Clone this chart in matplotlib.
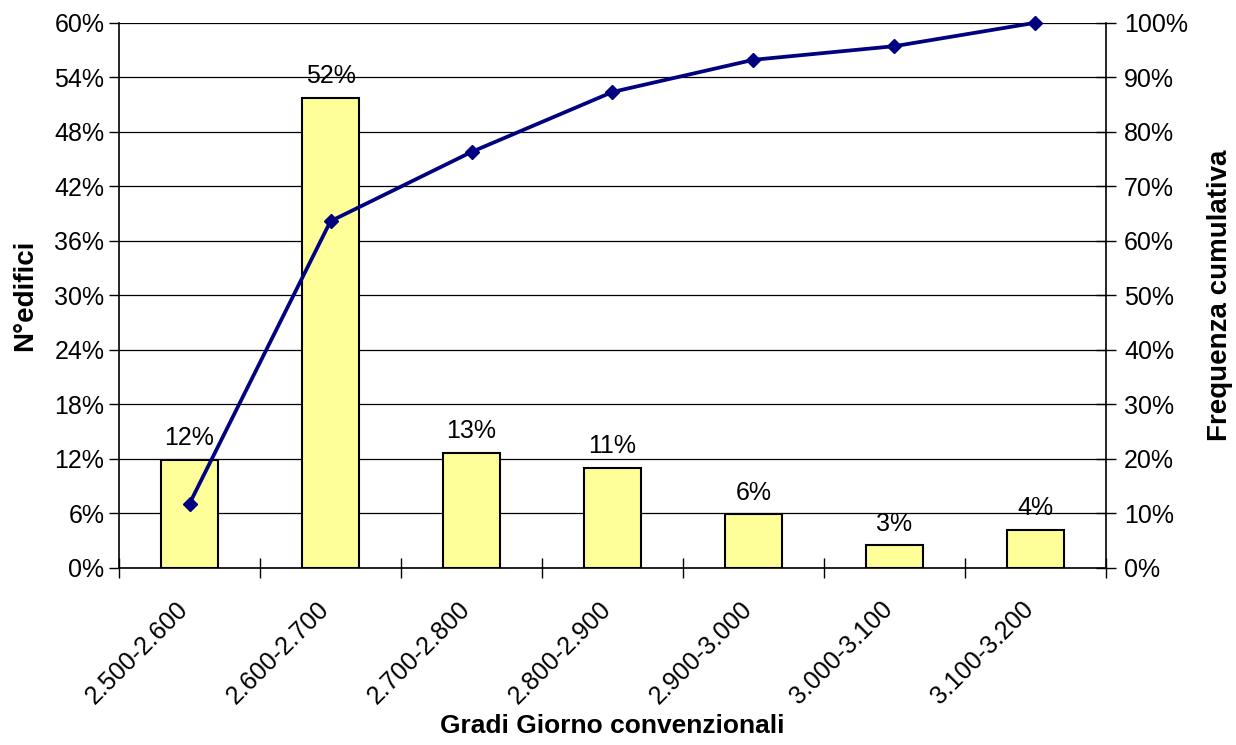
import matplotlib
matplotlib.use("Agg")
from matplotlib import pyplot as plt
from matplotlib.ticker import FixedLocator, PercentFormatter
from matplotlib.transforms import ScaledTranslation
import numpy as np

# dati
categorie = ["2.500-2.600", "2.600-2.700", "2.700-2.800", "2.800-2.900",
             "2.900-3.000", "3.000-3.100", "3.100-3.200"]
n_edifici = [11.9, 51.7, 12.7, 11.0, 5.9, 2.5, 4.2]          # % edifici
etichette = ["12%", "52%", "13%", "11%", "6%", "3%", "4%"]
freq_cumulativa = [11.8, 63.6, 76.3, 87.3, 93.2, 95.7, 100.0]  # %

plt.rcParams['font.family'] = ['Liberation Sans', 'DejaVu Sans']
FS = 18

fig = plt.figure(figsize=(12.36, 7.45), dpi=100)
ax = fig.add_subplot(111)
fig.subplots_adjust(left=0.0963, right=0.8948, top=0.9695, bottom=0.2376)

x = np.arange(len(categorie))
ax.bar(x, n_edifici, width=0.4, color="#FFFF99", edgecolor="black",
       linewidth=1.5, zorder=3)
for xi, v, lab in zip(x, n_edifici, etichette):
    ax.annotate(lab, (xi, v), xytext=(0, 7), textcoords="offset points",
                ha="center", va="bottom", fontsize=FS, zorder=5)

ax.set_xlim(-0.5, len(categorie) - 0.5)
ax.set_ylim(0, 60)
ax.set_yticks(np.arange(0, 61, 6))
ax.yaxis.set_major_formatter(PercentFormatter(decimals=0))
ax.yaxis.grid(True, color="black", linewidth=0.9, zorder=0)
ax.set_axisbelow(True)

# tacche tra le categorie, etichette al centro
ax.set_xticks(x)
ax.set_xticklabels(categorie, rotation=45, ha="right", rotation_mode="anchor",
                   fontsize=FS)
ax.tick_params(axis="x", which="major", length=0, pad=21)
offset = ScaledTranslation(-14 / 100, 0, fig.dpi_scale_trans)
for lab in ax.get_xticklabels():
    lab.set_transform(lab.get_transform() + offset)
ax.xaxis.set_minor_locator(FixedLocator(np.arange(-0.5, len(categorie), 1)))
ax.tick_params(axis="x", which="minor", length=14, direction="inout", width=1)
ax.tick_params(axis="y", labelsize=FS, length=7, width=1, direction="out")

ax.spines["top"].set_visible(False)
ax.spines["right"].set_visible(False)
ax.spines["left"].set_linewidth(1.2)
ax.spines["bottom"].set_linewidth(1.2)

ax.set_ylabel("N°edifici", fontsize=20, fontweight="bold", labelpad=12)
ax.set_xlabel("Gradi Giorno convenzionali", fontsize=19, fontweight="bold",
              labelpad=4)

ax2 = ax.twinx()
ax2.plot(x, freq_cumulativa, color="#000080", linewidth=2.7, marker="D",
         markersize=7, clip_on=False, zorder=4)
ax2.set_ylim(0, 100)
ax2.set_yticks(np.arange(0, 101, 10))
ax2.yaxis.set_major_formatter(PercentFormatter(decimals=0))
ax2.tick_params(axis="y", labelsize=FS, length=14, width=1, direction="inout",
                pad=6)
ax2.spines["top"].set_visible(False)
ax2.spines["left"].set_visible(False)
ax2.spines["bottom"].set_visible(False)
ax2.spines["right"].set_linewidth(1.2)
ax2.set_ylabel("Frequenza cumulativa", fontsize=20, fontweight="bold",
               labelpad=14)

plt.savefig("out.png", dpi=100)
plt.close("all")
